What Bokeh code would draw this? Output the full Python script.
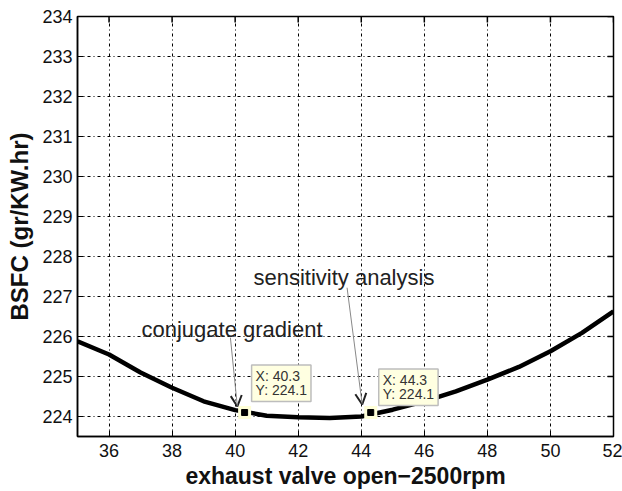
import math
from bokeh.plotting import figure
from bokeh.models import Range1d, FixedTicker, Label, Arrow, OpenHead
from bokeh.embed import file_html
from bokeh.resources import INLINE

# ---- data ----
valve_open = [35, 36, 37, 38, 39, 40, 41, 42, 43, 44, 45, 46, 47, 48, 49, 50, 51, 52]
bsfc = [225.88, 225.55, 225.10, 224.72, 224.38, 224.16, 224.02, 223.98, 223.96, 224.00,
        224.17, 224.38, 224.63, 224.92, 225.24, 225.63, 226.09, 226.63]
tip_x = [40.3, 44.3]
tip_y = [224.1, 224.1]
x_ticks = [36, 38, 40, 42, 44, 46, 48, 50, 52]
y_ticks = [224, 225, 226, 227, 228, 229, 230, 231, 232, 233, 234]
method_names = ["conjugate gradient", "sensitivity analysis"]

FONT = "Liberation Sans"

p = figure(width=622, height=491, output_backend="svg", toolbar_location=None,
           x_range=Range1d(35, 52), y_range=Range1d(223.5, 234),
           min_border_left=77, min_border_right=9, min_border_top=16, min_border_bottom=53,
           background_fill_color="white", border_fill_color="white")
p.outline_line_color = "black"
p.outline_line_width = 1.5

for ax in (p.xaxis[0], p.yaxis[0]):
    ax.major_tick_in = 6
    ax.major_tick_out = 0
    ax.minor_tick_in = 0
    ax.minor_tick_out = 0
    ax.axis_line_color = "black"
    ax.axis_line_width = 1.5
    ax.major_tick_line_color = "black"
    ax.major_label_text_font = FONT
    ax.major_label_text_font_size = "18px"
    ax.major_label_text_color = "#111111"
    ax.axis_label_text_font = FONT
    ax.axis_label_text_font_style = "bold"
    ax.axis_label_text_color = "#111111"

p.xaxis[0].axis_label_text_font_size = "23px"
p.yaxis[0].axis_label_text_font_size = "24px"
p.xaxis[0].ticker = FixedTicker(ticks=x_ticks)
p.yaxis[0].ticker = FixedTicker(ticks=y_ticks)
p.xaxis[0].axis_label = "exhaust valve open\u22122500rpm"
p.yaxis[0].axis_label = "BSFC (gr/KW.hr)"
p.xaxis[0].major_label_standoff = 7
p.xaxis[0].axis_label_standoff = 3
p.yaxis[0].major_label_standoff = 5
p.yaxis[0].axis_label_standoff = 6

# inward ticks on the top and right edges (half of each dash is clipped by the frame)
p.scatter([x_ticks[-1]] * len(y_ticks), y_ticks, marker="dash", size=12,
          line_color="black", line_width=1.5)
p.scatter(x_ticks, [y_ticks[-1]] * len(x_ticks), marker="dash", size=12, angle=math.pi / 2,
          line_color="black", line_width=1.5)

for g in (p.xgrid[0], p.ygrid[0]):
    g.grid_line_color = "black"
    g.grid_line_alpha = 1.0
    g.grid_line_width = 1
    g.grid_line_dash = "3 3 1 3"
p.xgrid[0].ticker = FixedTicker(ticks=x_ticks)
p.ygrid[0].ticker = FixedTicker(ticks=y_ticks)

p.line(valve_open, bsfc, line_color="black", line_width=4.5)

# data tips
p.scatter(tip_x, tip_y, marker="square", size=13, fill_color="#ffffd8", line_color=None)
p.scatter(tip_x, tip_y, marker="square", size=6, fill_color="black", line_color="black")
offsets = [(7, 11), (8, 7)]
for tx, ty, (dx, dy) in zip(tip_x, tip_y, offsets):
    p.add_layout(Label(x=tx, y=ty, x_offset=dx, y_offset=dy,
                       text=f"X: {tx}\nY: {ty}", text_font=FONT, text_font_size="14px",
                       text_line_height=0.9,
                       text_color="#333333", background_fill_color="#ffffe1",
                       border_line_color="#bdbdbd", border_line_width=1.5, padding=(4, 3)))

# annotations
p.add_layout(Label(x=37.03, y=226.17, text=method_names[0], text_font=FONT,
                   text_font_size="22px", text_color="#222222", text_baseline="middle"))
p.add_layout(Label(x=40.58, y=227.47, text=method_names[1], text_font=FONT,
                   text_font_size="22px", text_color="#222222", text_baseline="middle"))
p.add_layout(Arrow(x_start=39.85, y_start=225.97, x_end=40.07, y_end=224.25,
                   line_color="#888888", line_width=1,
                   end=OpenHead(size=11, line_color="#222222", line_width=2)))
p.add_layout(Arrow(x_start=43.55, y_start=227.22, x_end=44.03, y_end=224.3,
                   line_color="#888888", line_width=1,
                   end=OpenHead(size=11, line_color="#222222", line_width=2)))

open("out.html", "w").write(file_html(p, INLINE))
